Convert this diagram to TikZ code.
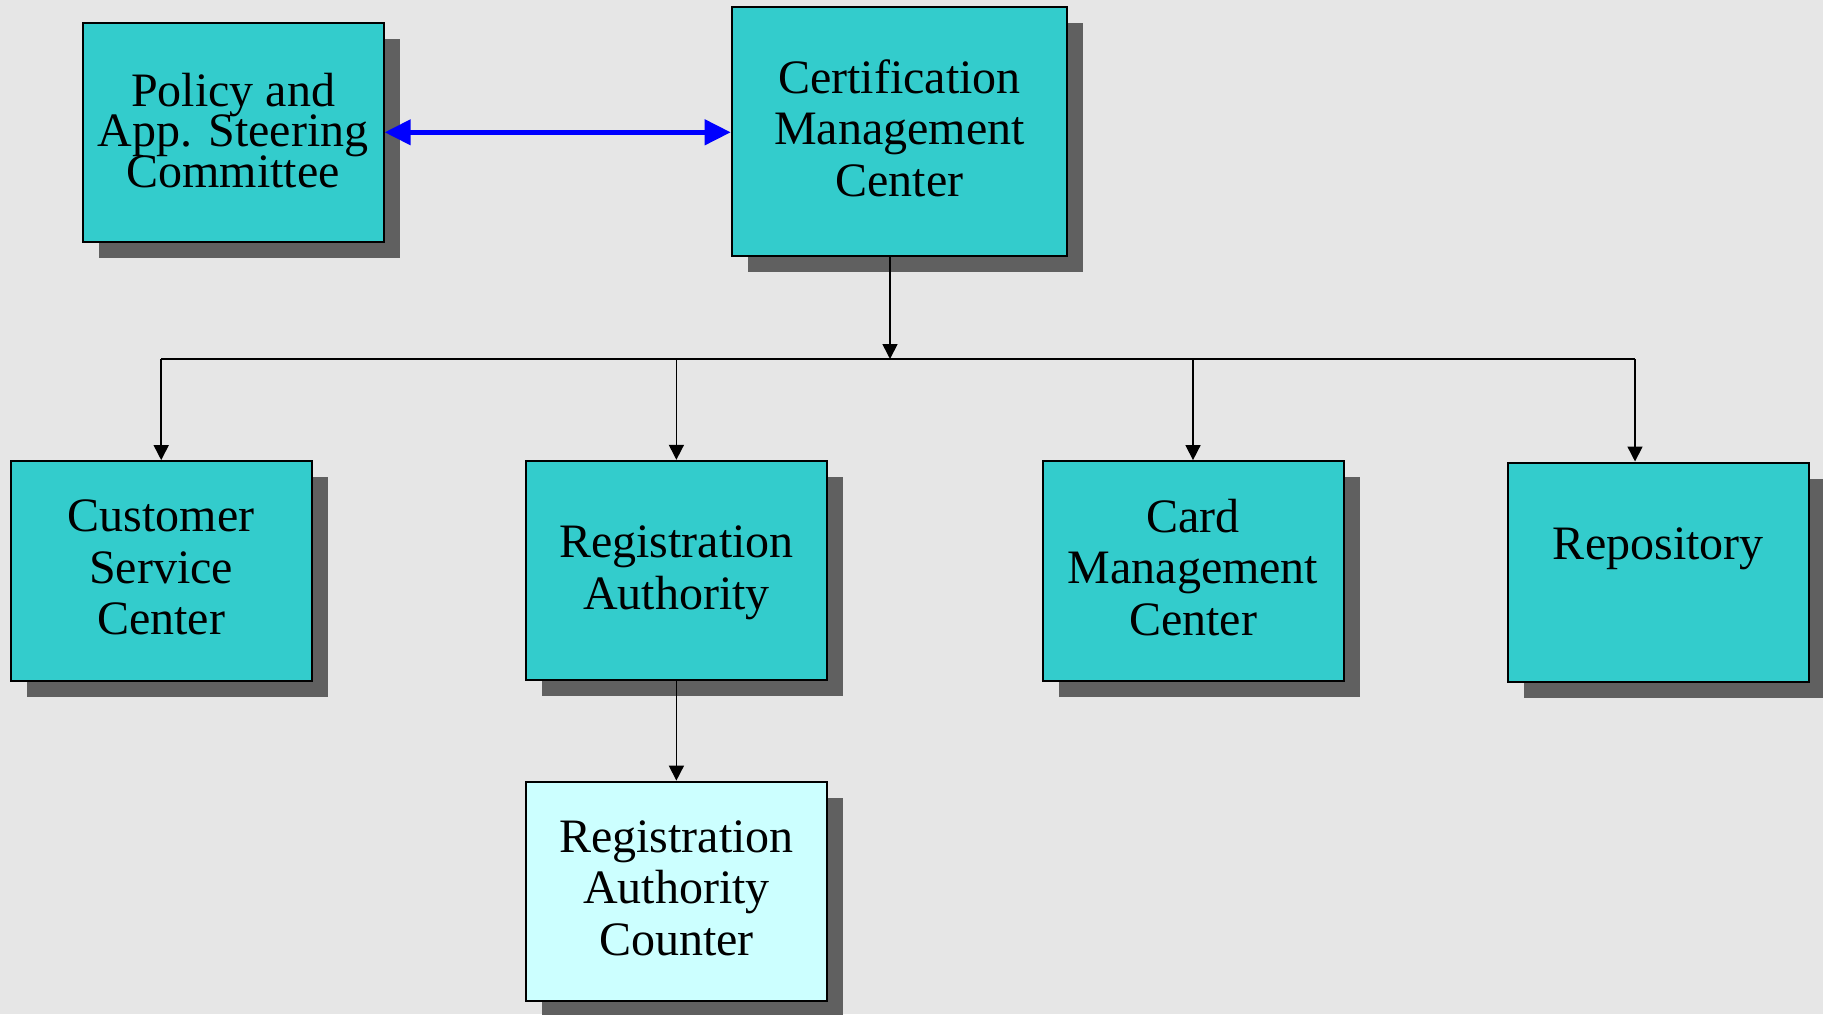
\documentclass[tikz,border=0pt]{standalone}
\usepackage{fontspec}
\setmainfont{Liberation Serif}
\usetikzlibrary{positioning,shadows,arrows.meta}
\definecolor{boxteal}{RGB}{51,204,204}
\definecolor{boxpale}{RGB}{204,255,255}
\definecolor{shadowgray}{RGB}{96,96,96}
\definecolor{bggray}{RGB}{230,230,230}
\newcommand\tightlines{\fontsize{24}{20.3}\selectfont\lineskiplimit -20pt\relax}
\begin{document}
\begin{tikzpicture}[x=0.5pt, y=-0.5pt,
	office/.style = {draw, line width=1pt, fill=boxteal, minimum width=150.5pt, minimum height=109.7pt, align=center, inner sep=0pt, text depth=3.5pt, font=\fontsize{24}{25.8}\selectfont, drop shadow={shadow xshift=8pt, shadow yshift=-8pt, fill=shadowgray, opacity=1}},
	feed/.style = {-{Triangle[length=7.5pt,width=7.5pt]}, line width=0.8pt}]
	\fill[bggray] (0,0) rectangle (1823,1014);
	\useasboundingbox (0,0) rectangle (1823,1014);
	\node[office, text depth=2.3pt, font=\tightlines] (policy) at (233.2,132.3) {Policy and\\App. Steering\\Committee};
	\node[office, minimum width=167.7pt, minimum height=124.5pt] (cmc) at (899.4,131.2) {Certification\\Management\\Center};
	\node[office] (csc) at (161.2,570.8) {Customer\\Service\\Center};
	\node[office, text depth=2.9pt] (ra) at (676.4,570.5) {Registration\\Authority};
	\node[office] (card) at (1193,570.8) {Card\\Management\\Center};
	\node[office, text height=16pt, text depth=28.7pt] (repo) at (1658.3,572.2) {Repository};
	\node[office, fill=boxpale, below=49.7pt of ra] (rac) {Registration\\Authority\\Counter};
	\coordinate (bus) at (890,359);
	\coordinate (repotap) at (1635,359);
	\draw[{Triangle[length=13pt,width=12.5pt]}-{Triangle[length=13pt,width=12.5pt]}, blue, line width=2.2pt] (policy.east) -- (policy.east -| cmc.west);
	\draw[feed] (cmc.south -| bus) -- (bus);
	\draw[line width=0.8pt] (csc.north |- bus) -- (repotap);
	\foreach \n in {csc,ra,card}
		\draw[feed] (\n.north |- bus) -- (\n);
	\draw[feed] (repotap) -- (repotap |- repo.north);
	\draw[feed] (ra) -- (rac);
\end{tikzpicture}
\end{document}
